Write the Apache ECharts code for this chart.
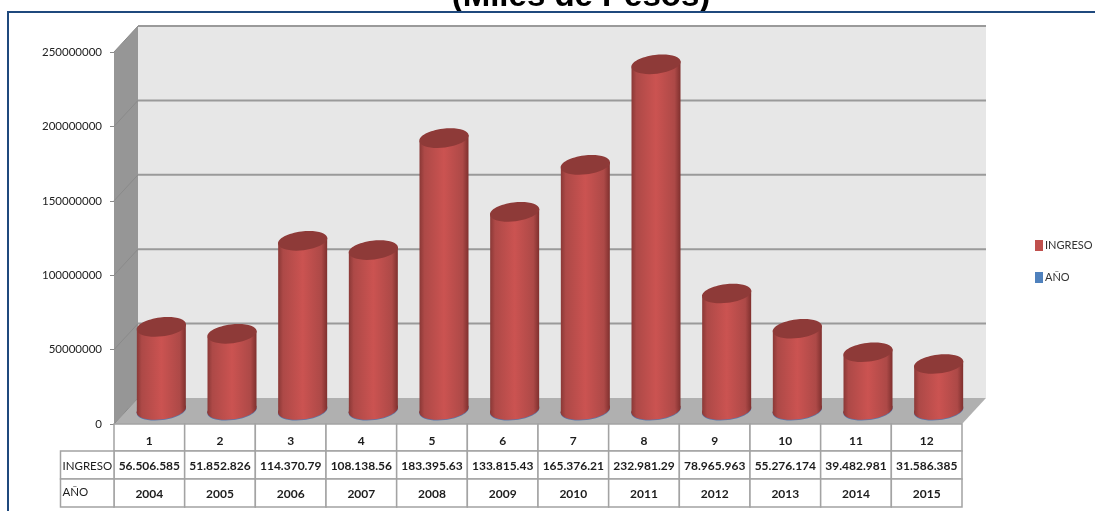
<!DOCTYPE html>
<html>
<head>
<meta charset="utf-8">
<style>
html, body { margin: 0; padding: 0; background: #fff; }
#chart { width: 1095px; height: 511px; }
</style>
<script src="https://cdn.jsdelivr.net/npm/echarts@6/dist/echarts.min.js"></script>
</head>
<body>
<div id="chart"></div>
<script>
const categories = ['1', '2', '3', '4', '5', '6', '7', '8', '9', '10', '11', '12'];
const ingreso = [56506585, 51852826, 114370790, 108138560, 183395630, 133815430, 165376210, 232981290, 78965963, 55276174, 39482981, 31586385];
const ingresoLabels = ['56.506.585', '51.852.826', '114.370.79', '108.138.56', '183.395.63', '133.815.43', '165.376.21', '232.981.29', '78.965.963', '55.276.174', '39.482.981', '31.586.385'];
const anio = [2004, 2005, 2006, 2007, 2008, 2009, 2010, 2011, 2012, 2013, 2014, 2015];
const yTicks = [0, 50000000, 100000000, 150000000, 200000000, 250000000];

const FONT = 'Lato, "Liberation Sans", sans-serif';
const DEPTH_X = 24, DEPTH_Y = 26;
const ROW_Y = [0, 27, 55, 83];

const barGradient = new echarts.graphic.LinearGradient(0, 0, 1, 0, [
    {offset: 0, color: '#8a3836'},
    {offset: 0.1, color: '#ad4947'},
    {offset: 0.5, color: '#cb5351'},
    {offset: 0.88, color: '#ad4947'},
    {offset: 1, color: '#7f302e'}
]);

function renderBox (params, api) {
    const {x, y, width, height} = params.coordSys;
    const bottom = y + height;
    const children = [
        {type: 'polygon', shape: {points: [[x, y], [x + DEPTH_X, y - DEPTH_Y], [x + DEPTH_X, bottom - DEPTH_Y], [x, bottom]]}, style: {fill: '#969696'}},
        {type: 'rect', shape: {x: x + DEPTH_X, y: y - DEPTH_Y, width: width, height: height}, style: {fill: '#e7e7e7'}},
        {type: 'polygon', shape: {points: [[x, bottom], [x + DEPTH_X, bottom - DEPTH_Y], [x + width + DEPTH_X, bottom - DEPTH_Y], [x + width, bottom]]}, style: {fill: '#b0b0b0'}}
    ];
    yTicks.forEach(tick => {
        const ty = api.coord([0, tick])[1];
        children.push({type: 'line', shape: {x1: x, y1: ty, x2: x + DEPTH_X, y2: ty - DEPTH_Y}, style: {stroke: '#8a8a8a', lineWidth: 1}});
        if (tick > 0) {
            children.push({type: 'line', shape: {x1: x + DEPTH_X, y1: ty - DEPTH_Y, x2: x + width + DEPTH_X, y2: ty - DEPTH_Y}, style: {stroke: '#9a9a9a', lineWidth: 2}});
        }
    });
    return {type: 'group', children};
}

function cylinderParts (api, fillBody, fillTop) {
    const base = api.coord([api.value(0), 0]);
    const top = api.coord([api.value(0), api.value(1)]);
    const cx = base[0] + DEPTH_X / 2;
    const by = base[1] - DEPTH_Y / 2 - 1;
    const ty = top[1] - DEPTH_Y / 2;
    const w = 24.5, skew = 3;
    const ellipse = (cy, fill) => ({
        type: 'ellipse',
        shape: {cx: 0, cy: 0, rx: 24.8, ry: 9.4},
        x: cx, y: cy, rotation: 7 * Math.PI / 180,
        style: {fill}
    });
    return [
        ellipse(by, fillBody),
        {type: 'polygon', shape: {points: [[cx - w, ty + skew], [cx + w, ty - skew], [cx + w, by - skew], [cx - w, by + skew]]}, style: {fill: fillBody}},
        ellipse(ty, fillTop)
    ];
}

function renderIngreso (params, api) {
    return {type: 'group', children: cylinderParts(api, barGradient, '#8e3a38')};
}

function renderAnio (params, api) {
    // the years are tiny on this scale, only a blue rim shows under the red bars
    const parts = cylinderParts(api, '#5a78ac', '#5a78ac');
    parts[0].y += 0.7;
    return {type: 'group', children: [parts[0]]};
}

function cell (x, y, w, h, text, align, dy) {
    return [
        {type: 'rect', shape: {x, y, width: w, height: h}, style: {fill: '#fff', stroke: '#a3a3a3', lineWidth: 1.5}},
        {
            type: 'text',
            x: align === 'left' ? x + 2 : x + w / 2,
            y: y + h / 2 + 1 + (dy || 0),
            style: {
                text,
                fill: '#1c1c1c',
                font: align === 'left' ? '11.5px ' + FONT : 'bold 12px ' + FONT,
                textAlign: align || 'center',
                textVerticalAlign: 'middle'
            }
        }
    ];
}

function renderTable (params, api) {
    const i = api.value(0);
    const band = api.size([1, 0])[0];
    const left = api.coord([i, 0])[0] - band / 2;
    const top = api.coord([i, 0])[1];
    let children = [
        ...cell(left, top + ROW_Y[0], band, ROW_Y[1] - ROW_Y[0], categories[i], 'center', 3),
        ...cell(left, top + ROW_Y[1], band, ROW_Y[2] - ROW_Y[1], ingresoLabels[i]),
        ...cell(left, top + ROW_Y[2], band, ROW_Y[3] - ROW_Y[2], String(anio[i]))
    ];
    if (i === 0) {
        children = children.concat(
            cell(left - 53.5, top + ROW_Y[1], 53.5, ROW_Y[2] - ROW_Y[1], 'INGRESO', 'left'),
            cell(left - 53.5, top + ROW_Y[2], 53.5, ROW_Y[3] - ROW_Y[2], 'AÑO', 'left', -2)
        );
    }
    return {type: 'group', children};
}

const chart = echarts.init(document.getElementById('chart'), null, {renderer: 'canvas'});
chart.setOption({
    animation: false,
    backgroundColor: '#fff',
    textStyle: {fontFamily: FONT},
    title: {
        text: '(Miles de Pesos)',
        left: 576,
        textAlign: 'center',
        top: -25,
        textStyle: {fontSize: 33, fontWeight: 'bold', color: '#000', fontFamily: '"Liberation Sans", sans-serif'}
    },
    legend: {
        data: ['INGRESO', 'AÑO'],
        orient: 'vertical',
        left: 1030,
        top: 235,
        icon: 'rect',
        itemWidth: 8,
        itemHeight: 11,
        itemGap: 21,
        textStyle: {fontSize: 11, color: '#333', padding: [0, 0, 0, -3], fontFamily: FONT}
    },
    grid: {left: 114, right: 133, top: 52, bottom: 87},
    xAxis: {
        type: 'category',
        data: categories,
        axisLine: {show: false},
        axisTick: {show: false},
        axisLabel: {show: false},
        splitLine: {show: false}
    },
    yAxis: {
        type: 'value',
        min: 0,
        max: 250000000,
        interval: 50000000,
        axisLine: {show: false},
        axisTick: {show: true, length: 4, lineStyle: {color: '#8a8a8a'}},
        axisLabel: {fontSize: 11.5, color: '#222', margin: 12, padding: [2, 0, 0, 0], formatter: v => String(v)},
        splitLine: {show: false}
    },
    series: [
        {type: 'custom', name: 'box', silent: true, clip: false, z: 1, renderItem: renderBox, data: [[0, 0]]},
        {type: 'custom', name: 'AÑO', clip: false, z: 2, itemStyle: {color: '#4f81bd'}, renderItem: renderAnio,
            data: anio.map((v, i) => [i, v])},
        {type: 'custom', name: 'INGRESO', clip: false, z: 3, itemStyle: {color: '#c0504d'}, renderItem: renderIngreso,
            data: ingreso.map((v, i) => [i, v])},
        {type: 'custom', name: 'table', silent: true, clip: false, z: 4, renderItem: renderTable,
            data: categories.map((c, i) => [i, 0])}
    ],
    graphic: [
        {type: 'line', silent: true, z: 101, shape: {x1: 8, y1: 12, x2: 1095, y2: 12}, style: {stroke: '#1f497d', lineWidth: 2}},
        {type: 'line', silent: true, z: 101, shape: {x1: 8, y1: 11, x2: 8, y2: 511}, style: {stroke: '#1f497d', lineWidth: 2}}
    ]
});
</script>
</body>
</html>
